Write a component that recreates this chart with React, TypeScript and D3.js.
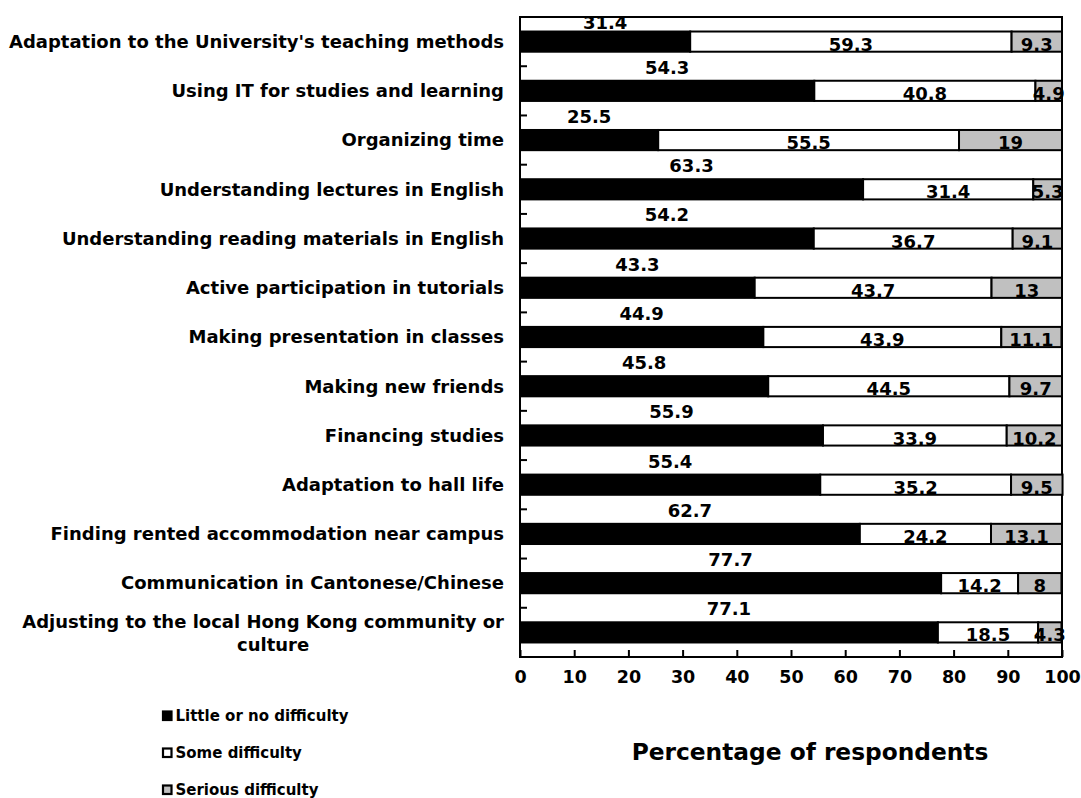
import React, { useEffect, useRef } from 'react';
import * as d3 from 'd3';

const categories = [
  "Adaptation to the University's teaching methods",
  'Using IT for studies and learning',
  'Organizing time',
  'Understanding lectures in English',
  'Understanding reading materials in English',
  'Active participation in tutorials',
  'Making presentation in classes',
  'Making new friends',
  'Financing studies',
  'Adaptation to hall life',
  'Finding rented accommodation near campus',
  'Communication in Cantonese/Chinese',
  'Adjusting to the local Hong Kong community or culture',
];

const littleOrNo = [31.4, 54.3, 25.5, 63.3, 54.2, 43.3, 44.9, 45.8, 55.9, 55.4, 62.7, 77.7, 77.1];
const someDifficulty = [59.3, 40.8, 55.5, 31.4, 36.7, 43.7, 43.9, 44.5, 33.9, 35.2, 24.2, 14.2, 18.5];
const seriousDifficulty = [9.3, 4.9, 19, 5.3, 9.1, 13, 11.1, 9.7, 10.2, 9.5, 13.1, 8, 4.3];

const seriesNames = ['Little or no difficulty', 'Some difficulty', 'Serious difficulty'];
const seriesColors = ['#000000', '#ffffff', '#c0c0c0'];
const xTicks = [0, 10, 20, 30, 40, 50, 60, 70, 80, 90, 100];

const FONT = '"DejaVu Sans", Verdana, sans-serif';

const App: React.FC = () => {
  const svgRef = useRef<SVGSVGElement>(null);

  useEffect(() => {
    if (!svgRef.current) return;
    const svg = d3.select(svgRef.current);
    svg.selectAll('*').remove();

    const width = 1081;
    const height = 798;
    const plot = { left: 520, right: 1062, top: 17, bottom: 657 };

    const x = d3.scaleLinear().domain([0, 100]).range([plot.left, plot.right]);
    const y = d3.scaleBand<string>()
      .domain(categories)
      .range([plot.top, plot.bottom])
      .paddingInner(0.59)
      .paddingOuter(0.295);

    svg.attr('width', width).attr('height', height)
      .style('font-family', FONT)
      .style('font-weight', 'bold');

    svg.append('rect').attr('width', width).attr('height', height).attr('fill', '#fff');

    // stacked rows
    const rows = categories.map((c, i) => {
      const vals = [littleOrNo[i], someDifficulty[i], seriousDifficulty[i]];
      let acc = 0;
      return {
        cat: c,
        segs: vals.map((v, k) => {
          const s = { k, v, x0: acc, x1: acc + v };
          acc += v;
          return s;
        }),
      };
    });

    const bw = y.bandwidth();

    // plot area border
    svg.append('rect')
      .attr('x', plot.left).attr('y', plot.top)
      .attr('width', plot.right - plot.left).attr('height', plot.bottom - plot.top)
      .attr('fill', 'none').attr('stroke', '#000').attr('stroke-width', 2);

    const rowG = svg.selectAll('.row')
      .data(rows)
      .enter()
      .append('g')
      .attr('class', 'row')
      .attr('transform', d => `translate(0,${y(d.cat)})`);

    rowG.selectAll('rect')
      .data(d => d.segs)
      .enter()
      .append('rect')
      .attr('x', d => x(d.x0))
      .attr('y', 0)
      .attr('width', d => x(d.x1) - x(d.x0))
      .attr('height', bw)
      .attr('fill', d => seriesColors[d.k])
      .attr('stroke', '#000')
      .attr('stroke-width', 2);

    // labels for some / serious inside the bar, sitting on the bottom edge
    rowG.selectAll('text.inner')
      .data(d => d.segs.filter(s => s.k > 0))
      .enter()
      .append('text')
      .attr('class', 'inner')
      .attr('x', d => x((d.x0 + d.x1) / 2))
      .attr('y', bw - 1)
      .attr('text-anchor', 'middle')
      .attr('font-size', 18)
      .attr('fill', '#000')
      .text(d => String(d.v));

    // labels for "little or no" above the bar
    rowG.append('text')
      .attr('x', d => x((d.segs[0].x0 + d.segs[0].x1) / 2))
      .attr('y', d => Math.max(-7, plot.top + 12 - (y(d.cat) || 0)))
      .attr('text-anchor', 'middle')
      .attr('font-size', 18)
      .attr('fill', '#000')
      .text(d => String(d.segs[0].v));

    // y axis ticks at category boundaries
    const step = y.step();
    svg.selectAll('.ytick')
      .data(d3.range(1, categories.length))
      .enter()
      .append('line')
      .attr('x1', plot.left).attr('x2', plot.left + 7)
      .attr('y1', i => plot.top + i * step).attr('y2', i => plot.top + i * step)
      .attr('stroke', '#000').attr('stroke-width', 2);

    // category labels
    const labelRight = 504;
    categories.forEach((c, i) => {
      const cy = (y(c) || 0) + bw / 2;
      if (i === categories.length - 1) {
        const lines = ['Adjusting to the local Hong Kong community or', 'culture'];
        const t1 = svg.append('text')
          .attr('x', labelRight).attr('y', cy - 11).attr('dy', '0.35em')
          .attr('text-anchor', 'end').attr('font-size', 18).text(lines[0]);
        const w = (t1.node() as SVGTextElement).getComputedTextLength();
        svg.append('text')
          .attr('x', labelRight - w / 2 + 10).attr('y', cy + 12).attr('dy', '0.35em')
          .attr('text-anchor', 'middle').attr('font-size', 18).text(lines[1]);
      } else {
        svg.append('text')
          .attr('x', labelRight).attr('y', cy).attr('dy', '0.35em')
          .attr('text-anchor', 'end').attr('font-size', 18).text(c);
      }
    });

    // x axis
    const xAxis = d3.axisBottom(x).tickValues(xTicks).tickSize(-7).tickPadding(14).tickFormat(d => String(d));
    const ax = svg.append('g')
      .attr('transform', `translate(0,${plot.bottom})`)
      .call(xAxis);
    ax.select('.domain').remove();
    ax.selectAll('line').attr('stroke', '#000').attr('stroke-width', 2);
    ax.selectAll('text')
      .attr('font-size', 17.5)
      .attr('font-family', FONT)
      .attr('font-weight', 'bold')
      .attr('fill', '#000');

    // axis title
    svg.append('text')
      .attr('x', 810).attr('y', 760)
      .attr('text-anchor', 'middle')
      .attr('font-size', 23.3)
      .text('Percentage of respondents');

    // legend
    const legend = svg.selectAll('.legend')
      .data(seriesNames)
      .enter()
      .append('g')
      .attr('class', 'legend')
      .attr('transform', (_, i) => `translate(163,${716 + i * 37})`);
    legend.append('rect')
      .attr('x', 0).attr('y', -4.5)
      .attr('width', 8.5).attr('height', 8.5)
      .attr('fill', (_, i) => seriesColors[i])
      .attr('stroke', '#000').attr('stroke-width', 2.2);
    legend.append('text')
      .attr('x', 12.5).attr('y', 0).attr('dy', '0.35em')
      .attr('font-size', 15)
      .text(d => d);
  }, []);

  return (
    <div style={{ position: 'absolute', left: 0, top: 0 }}>
      <svg ref={svgRef}></svg>
    </div>
  );
};

export default App;
